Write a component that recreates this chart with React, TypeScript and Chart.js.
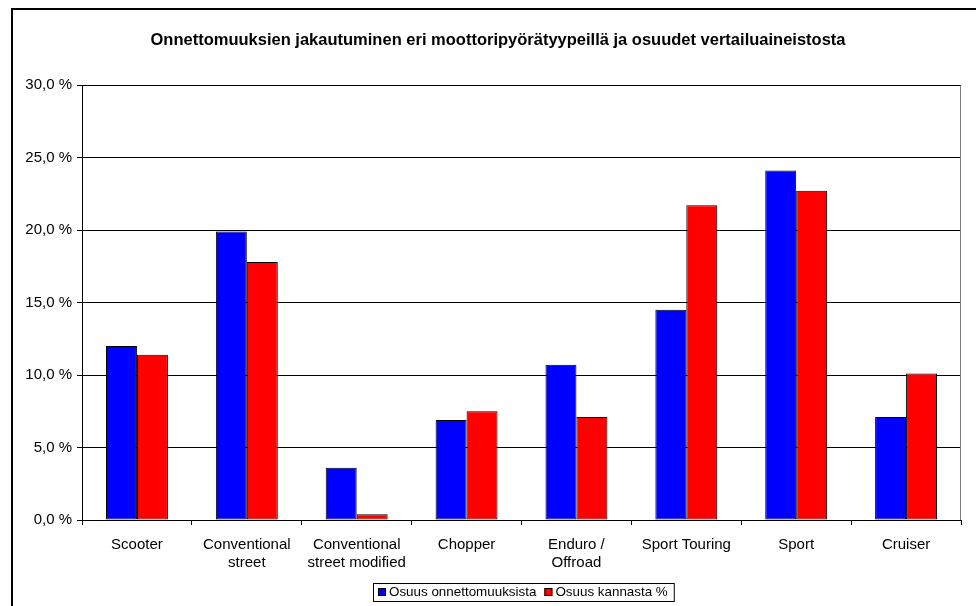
import React, { useEffect, useRef } from "react";
import { Chart, registerables } from "chart.js";

Chart.register(...registerables);

const chartTitle =
  "Onnettomuuksien jakautuminen eri moottoripyörätyypeillä ja osuudet vertailuaineistosta";
const categories = [
  ["Scooter"],
  ["Conventional", "street"],
  ["Conventional", "street modified"],
  ["Chopper"],
  ["Enduro /", "Offroad"],
  ["Sport Touring"],
  ["Sport"],
  ["Cruiser"],
];
const seriesNames = ["Osuus onnettomuuksista", "Osuus kannasta %"];
const accidentShare = [12.0, 19.9, 3.6, 6.9, 10.7, 14.5, 24.1, 7.1];
const fleetShare = [11.4, 17.8, 0.4, 7.5, 7.1, 21.7, 22.7, 10.1];
const seriesColors = ["#0000FF", "#FF0000"];
const yMin = 0;
const yMax = 30;
const yStep = 5;

const FONT = "'Liberation Sans', Arial, sans-serif";

const customPlugin = {
  id: "customDecor",
  afterDraw(chart: any) {
    const ctx = chart.ctx;
    const area = chart.chartArea;
    ctx.save();
    // plot-area border (right)
    ctx.strokeStyle = "#808080";
    ctx.lineWidth = 1;
    ctx.beginPath();
    ctx.moveTo(Math.round(area.right) - 0.5, Math.round(area.top) + 0.5);
    ctx.lineTo(Math.round(area.right) - 0.5, Math.round(area.bottom));
    ctx.stroke();

    // title
    ctx.fillStyle = "#000";
    ctx.font = `bold 16.5px ${FONT}`;
    ctx.textAlign = "center";
    ctx.textBaseline = "middle";
    ctx.fillText(chartTitle, 498, 40);

    // legend
    ctx.font = `13.4px ${FONT}`;
    ctx.textAlign = "left";
    const boxLeft = 373;
    const boxTop = 583;
    const boxH = 18;
    let x = boxLeft + 5;
    const midY = boxTop + boxH / 2;
    const items = chart.data.datasets.map((ds: any) => ({
      label: ds.label,
      color: ds.backgroundColor,
    }));
    items.forEach((it: any) => {
      ctx.fillStyle = it.color;
      ctx.fillRect(x, midY - 4, 8, 8);
      ctx.strokeStyle = "#000";
      ctx.lineWidth = 1;
      ctx.strokeRect(x + 0.5, midY - 3.5, 7, 7);
      x += 11;
      ctx.fillStyle = "#000";
      ctx.fillText(it.label, x, midY + 0.5);
      x += ctx.measureText(it.label).width + 8;
    });
    const boxRight = x - 8 + 6;
    ctx.strokeStyle = "#000";
    ctx.lineWidth = 1;
    ctx.strokeRect(boxLeft + 0.5, boxTop + 0.5, boxRight - boxLeft, boxH);
    ctx.restore();
  },
};

export default function App() {
  const canvasRef = useRef<HTMLCanvasElement | null>(null);

  useEffect(() => {
    document.documentElement.style.overflow = "hidden";
    document.body.style.overflow = "hidden";
    const canvas = canvasRef.current;
    if (!canvas) return;
    const chart = new Chart(canvas, {
      type: "bar",
      data: {
        labels: categories,
        datasets: [
          {
            label: seriesNames[0],
            data: accidentShare,
            backgroundColor: seriesColors[0],
            borderColor: "#000",
            borderWidth: 1,
            borderSkipped: false,
            categoryPercentage: 62 / 110,
            barPercentage: 1,
          },
          {
            label: seriesNames[1],
            data: fleetShare,
            backgroundColor: seriesColors[1],
            borderColor: "#000",
            borderWidth: 1,
            borderSkipped: false,
            categoryPercentage: 62 / 110,
            barPercentage: 1,
          },
        ],
      },
      options: {
        responsive: false,
        animation: false,
        devicePixelRatio: 1,
        layout: { padding: { top: 85, right: 15, bottom: 0, left: 0 } },
        plugins: {
          legend: { display: false },
          title: { display: false },
          tooltip: { enabled: false },
        },
        scales: {
          x: {
            grid: {
              display: true,
              offset: true,
              drawOnChartArea: false,
              drawTicks: true,
              tickLength: 5,
              color: "#000",
              lineWidth: 1,
            },
            border: { display: true, color: "#000", width: 1 },
            ticks: {
              color: "#000",
              font: { family: FONT, size: 15 },
              padding: 11,
              maxRotation: 0,
              autoSkip: false,
            },
            afterFit(scale: any) {
              scale.height = 86;
            },
          },
          y: {
            min: yMin,
            max: yMax,
            ticks: {
              stepSize: yStep,
              color: "#000",
              font: { family: FONT, size: 15 },
              padding: 5,
              callback: (v: any) => Number(v).toFixed(1).replace(".", ",") + " %",
            },
            grid: {
              color: "#000",
              lineWidth: 1,
              tickLength: 5,
              drawTicks: true,
            },
            border: { display: true, color: "#000", width: 1 },
            afterFit(scale: any) {
              scale.width = 82;
            },
          },
        },
      },
      plugins: [customPlugin],
    });
    return () => chart.destroy();
  }, []);

  return (
    <div
      style={{
        position: "fixed",
        left: 0,
        top: 0,
        width: 976,
        height: 606,
        overflow: "hidden",
        background: "#fff",
      }}
    >
      <div
        style={{
          position: "absolute",
          left: 11,
          top: 8,
          width: 1000,
          height: 700,
          border: "2px solid #000",
          boxSizing: "border-box",
        }}
      />
      <canvas
        ref={canvasRef}
        width={976}
        height={606}
        style={{ position: "absolute", left: 0, top: 0, width: 976, height: 606 }}
      />
    </div>
  );
}
